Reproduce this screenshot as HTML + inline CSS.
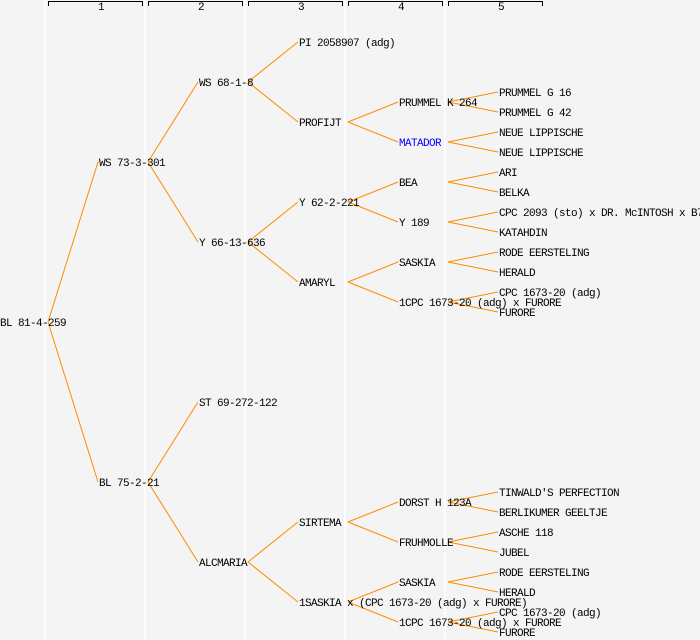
<!DOCTYPE html>
<html><head><style>
body{margin:0;background:#f4f4f4;}
svg{display:block}
text{font-family:"Liberation Mono","DejaVu Sans Mono",monospace;font-size:11px;letter-spacing:-0.6px;fill:#000;dominant-baseline:central}
</style></head><body>
<svg width="700" height="640" xmlns="http://www.w3.org/2000/svg">
<rect width="700" height="640" fill="#f4f4f4"/>
<g stroke="#fff" stroke-width="1.5">
<line x1="45" y1="0" x2="45" y2="640"/><line x1="145" y1="0" x2="145" y2="640"/><line x1="245" y1="0" x2="245" y2="640"/><line x1="345" y1="0" x2="345" y2="640"/><line x1="445" y1="0" x2="445" y2="640"/>
</g>
<g stroke="#000" stroke-width="1" fill="none">
<path d="M48.5,6V1.5H142.5V6"/><path d="M148.5,6V1.5H242.5V6"/><path d="M248.5,6V1.5H342.5V6"/><path d="M348.5,6V1.5H442.5V6"/><path d="M448.5,6V1.5H542.5V6"/>
</g>
<g style="font-size:8px;letter-spacing:0" text-anchor="middle">
<text x="101" y="8">1</text><text x="201" y="8">2</text><text x="301" y="8">3</text><text x="401" y="8">4</text><text x="501" y="8">5</text>
</g>
<g stroke="#ff8c00" stroke-width="1" fill="none">
<path d="M48,322L98,162M48,322L98,482"/>
<path d="M148,162L198,82M148,162L198,242M148,482L198,402M148,482L198,562"/>
<path d="M248,82L298,42M248,82L298,122M248,242L298,202M248,242L298,282M248,562L298,522M248,562L298,602"/>
<path d="M348,122L398,102M348,122L398,142M348,202L398,182M348,202L398,222M348,282L398,262M348,282L398,302M348,522L398,502M348,522L398,542M348,602L398,582M348,602L398,622"/>
<path d="M448,102L498,92M448,102L498,112M448,142L498,132M448,142L498,152M448,182L498,172M448,182L498,192M448,222L498,212M448,222L498,232M448,262L498,252M448,262L498,272M448,302L498,292M448,302L498,312M448,502L498,492M448,502L498,512M448,542L498,532M448,542L498,552M448,582L498,572M448,582L498,592M448,622L498,612M448,622L498,632"/>
</g>
<g transform="translate(0,2)">
<text x="0" y="322">BL 81-4-259</text>
<text x="99" y="162">WS 73-3-301</text><text x="99" y="482">BL 75-2-21</text>
<text x="199" y="82">WS 68-1-8</text><text x="199" y="242">Y 66-13-636</text><text x="199" y="402">ST 69-272-122</text><text x="199" y="562">ALCMARIA</text>
<text x="299" y="42">PI 2058907 (adg)</text><text x="299" y="122">PROFIJT</text><text x="299" y="202">Y 62-2-221</text><text x="299" y="282">AMARYL</text><text x="299" y="522">SIRTEMA</text><text x="299" y="602">1SASKIA x (CPC 1673-20 (adg) x FURORE)</text>
<text x="399" y="102">PRUMMEL K 264</text><text x="399" y="142" style="fill:#0000ff">MATADOR</text><text x="399" y="182">BEA</text><text x="399" y="222">Y 189</text><text x="399" y="262">SASKIA</text><text x="399" y="302">1CPC 1673-20 (adg) x FURORE</text><text x="399" y="502">DORST H 123A</text><text x="399" y="542">FRUHMOLLE</text><text x="399" y="582">SASKIA</text><text x="399" y="622">1CPC 1673-20 (adg) x FURORE</text>
<text x="499" y="92">PRUMMEL G 16</text><text x="499" y="112">PRUMMEL G 42</text><text x="499" y="132">NEUE LIPPISCHE</text><text x="499" y="152">NEUE LIPPISCHE</text><text x="499" y="172">ARI</text><text x="499" y="192">BELKA</text><text x="499" y="212">CPC 2093 (sto) x DR. McINTOSH x B7</text><text x="499" y="232">KATAHDIN</text><text x="499" y="252">RODE EERSTELING</text><text x="499" y="272">HERALD</text><text x="499" y="292">CPC 1673-20 (adg)</text><text x="499" y="312">FURORE</text>
<text x="499" y="492">TINWALD'S PERFECTION</text><text x="499" y="512">BERLIKUMER GEELTJE</text><text x="499" y="532">ASCHE 118</text><text x="499" y="552">JUBEL</text><text x="499" y="572">RODE EERSTELING</text><text x="499" y="592">HERALD</text><text x="499" y="612">CPC 1673-20 (adg)</text><text x="499" y="632">FURORE</text>
</g>
</svg>
</body></html>
